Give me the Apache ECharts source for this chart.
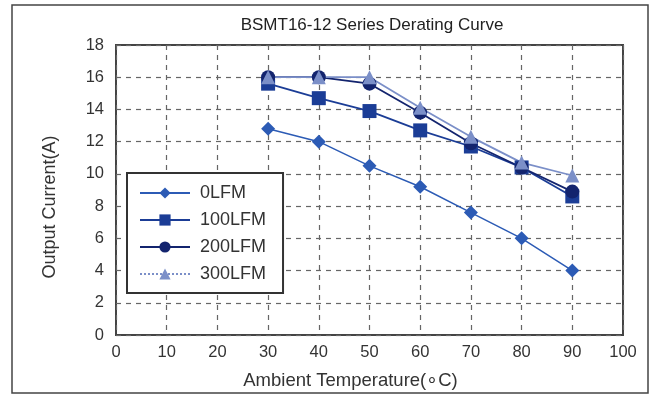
<!DOCTYPE html>
<html>
<head>
<meta charset="utf-8">
<script src="https://cdn.jsdelivr.net/npm/echarts@6/dist/echarts.min.js"></script>
<style>
  html, body { margin: 0; padding: 0; background: #fff; }
  #chart { width: 657px; height: 397px; }
</style>
</head>
<body>
<div id="chart"></div>
<script>
var temps = [30, 40, 50, 60, 70, 80, 90];
var lfm0 = [12.8, 12.0, 10.5, 9.2, 7.6, 6.0, 4.0];
var lfm100 = [15.6, 14.7, 13.9, 12.7, 11.7, 10.4, 8.6];
var lfm200 = [16.0, 16.0, 15.6, 13.8, 11.9, 10.4, 8.9];
var lfm300 = [16.0, 16.0, 16.0, 14.1, 12.3, 10.7, 9.9];
var seriesNames = ['0LFM', '100LFM', '200LFM', '300LFM'];

function pairs(vals) {
  return temps.map(function (t, i) { return [t, vals[i]]; });
}

var chart = echarts.init(document.getElementById('chart'));
var font = 'Liberation Sans, Arial, sans-serif';
var gridDash = { show: true, lineStyle: { type: [5, 5], color: '#666', width: 1.2 } };

chart.setOption({
  animation: false,
  textStyle: { fontFamily: font },
  title: {
    text: 'BSMT16-12 Series Derating Curve',
    left: 367,
    top: 12,
    textAlign: 'center',
    textStyle: { fontSize: 17, fontWeight: 'normal', color: '#222', fontFamily: font }
  },
  graphic: [{
    type: 'rect',
    shape: { x: 12, y: 5, width: 636, height: 388 },
    style: { fill: 'none', stroke: '#444', lineWidth: 1.5 },
    silent: true
  }],
  grid: { left: 116, right: 34, top: 45, bottom: 62, show: true, borderColor: '#444', borderWidth: 2 },
  legend: {
    data: [
      { name: '0LFM' },
      { name: '100LFM' },
      { name: '200LFM' },
      { name: '300LFM', lineStyle: { type: 'dotted', width: 2 } }
    ],
    orient: 'vertical',
    left: 127,
    top: 173,
    padding: [11, 17, 10, 12],
    itemWidth: 50,
    itemHeight: 14,
    itemGap: 9,
    backgroundColor: '#fff',
    borderColor: '#333',
    borderWidth: 2,
    textStyle: { fontSize: 18, color: '#333', fontFamily: font, padding: [0, 0, 0, 5] }
  },
  xAxis: {
    type: 'value',
    min: 0,
    max: 100,
    interval: 10,
    name: 'Ambient Temperature(\u2218C)',
    nameLocation: 'middle',
    nameGap: 36,
    nameTextStyle: { fontSize: 18.5, color: '#333', padding: [0, 38, 0, 0] },
    axisLine: { show: false },
    axisTick: { show: false },
    axisLabel: { fontSize: 16.5, color: '#333', margin: 9 },
    splitLine: gridDash
  },
  yAxis: {
    type: 'value',
    min: 0,
    max: 18,
    interval: 2,
    name: 'Output Current(A)',
    nameLocation: 'middle',
    nameGap: 57,
    nameTextStyle: { fontSize: 18, color: '#333', padding: [0, 34, 0, 0] },
    axisLine: { show: false },
    axisTick: { show: false },
    axisLabel: { fontSize: 16.5, color: '#333', margin: 12 },
    splitLine: gridDash
  },
  series: [
    {
      name: '0LFM', type: 'line', data: pairs(lfm0),
      symbol: 'diamond', symbolSize: 14,
      lineStyle: { color: '#2c5bb5', width: 1.5 },
      itemStyle: { color: '#2c5bb5' }
    },
    {
      name: '100LFM', type: 'line', data: pairs(lfm100),
      symbol: 'rect', symbolSize: 14,
      lineStyle: { color: '#1b3d96', width: 1.8 },
      itemStyle: { color: '#1b3d96' }
    },
    {
      name: '200LFM', type: 'line', data: pairs(lfm200),
      symbol: 'circle', symbolSize: 14,
      lineStyle: { color: '#13246e', width: 1.8 },
      itemStyle: { color: '#13246e' }
    },
    {
      name: '300LFM', type: 'line', data: pairs(lfm300),
      symbol: 'triangle', symbolSize: 14,
      lineStyle: { color: '#7b8fc8', width: 1.8 },
      itemStyle: { color: '#7b8fc8' }
    }
  ]
});
</script>
</body>
</html>
